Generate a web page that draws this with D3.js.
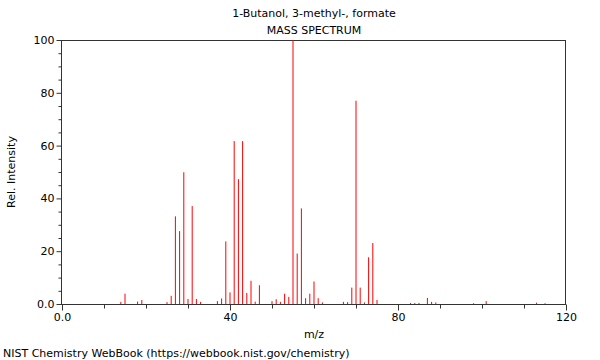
<!DOCTYPE html>
<html><head><meta charset="utf-8">
<script src="https://cdn.jsdelivr.net/npm/d3@7"></script>
<style>
body{margin:0;background:#fff;}
svg{display:block;font-family:"DejaVu Sans",sans-serif;}
</style></head>
<body>
<svg id="chart" width="600" height="360"></svg>
<script>
const title = "1-Butanol, 3-methyl-, formate";
const subtitle = "MASS SPECTRUM";
const xLabel = "m/z";
const yLabel = "Rel. Intensity";
const footer = "NIST Chemistry WebBook (https://webbook.nist.gov/chemistry)";

const mz = [14, 15, 18, 19, 25, 26, 27, 28, 29, 30, 31, 32, 33, 37, 38, 39, 40, 41, 42, 43, 44, 45, 46, 47,
  50, 51, 52, 53, 54, 55, 56, 57, 58, 59, 60, 61, 62, 67, 68, 69, 70, 71, 72, 73, 74, 75,
  83, 84, 85, 87, 88, 89, 98, 101, 113, 115];
const intensity = [0.8, 3.9, 0.9, 1.5, 0.7, 3.1, 33.2, 27.6, 49.9, 1.9, 37.1, 1.9, 0.8, 1.1, 2.1, 23.7, 4.4, 61.7, 47.3, 61.7, 4.2, 8.8, 0.9, 7.1,
  1.1, 1.8, 0.8, 3.9, 2.7, 100, 19.1, 36.2, 2.2, 3.9, 8.5, 2.2, 0.6, 0.8, 0.7, 6.2, 77.0, 6.2, 0.6, 17.7, 23.1, 1.5,
  0.4, 0.4, 0.4, 2.3, 0.8, 0.6, 0.3, 1.1, 0.5, 0.3];

const xMajorTicks = [0, 40, 80, 120];
const xTickLabels = ["0.0", "40", "80", "120"];
const yMajorTicks = [0, 20, 40, 60, 80, 100];
const yTickLabels = ["0.0", "20", "40", "60", "80", "100"];

const svg = d3.select("#chart");
const m = {left: 62, right: 566, top: 40, bottom: 304};
const x = d3.scaleLinear().domain([0, 120]).range([m.left, m.right]);
const y = d3.scaleLinear().domain([0, 100]).range([m.bottom, m.top]);
const axisColor = "#333";

// frame (top & right)
svg.append("line").attr("x1", m.left).attr("x2", m.right).attr("y1", m.top + 0.5).attr("y2", m.top + 0.5).attr("stroke", axisColor);
svg.append("line").attr("x1", m.right - 0.5).attr("x2", m.right - 0.5).attr("y1", m.top).attr("y2", m.bottom).attr("stroke", axisColor);

// peaks
svg.append("g").selectAll("line").data(mz).join("line")
  .attr("x1", d => x(d)).attr("x2", d => x(d))
  .attr("y1", y(0)).attr("y2", (d, i) => y(intensity[i]))
  .attr("stroke", "#ff0000").attr("stroke-width", 1);

// x axis
const xMinor = d3.range(0, 121, 10).filter(v => !xMajorTicks.includes(v));
const xAxis = svg.append("g").attr("transform", `translate(0,${m.bottom + 0.5})`)
  .call(d3.axisBottom(x).tickValues(xMajorTicks).tickFormat((d, i) => xTickLabels[i]).tickSize(6).tickPadding(3));
xAxis.call(g => g.select(".domain").remove());
svg.append("line").attr("x1", m.left).attr("x2", m.right).attr("y1", m.bottom + 0.5).attr("y2", m.bottom + 0.5).attr("stroke", axisColor);
svg.append("g").attr("transform", `translate(0,${m.bottom + 0.5})`)
  .call(d3.axisBottom(x).tickValues(xMinor).tickFormat("").tickSize(4))
  .call(g => g.select(".domain").remove());

// y axis
const yMinor = d3.range(0, 101, 5).filter(v => !yMajorTicks.includes(v));
const yAxis = svg.append("g").attr("transform", `translate(${m.left - 0.5},0)`)
  .call(d3.axisLeft(y).tickValues(yMajorTicks).tickFormat((d, i) => yTickLabels[i]).tickSize(5).tickPadding(2));
yAxis.call(g => g.select(".domain").remove());
svg.append("line").attr("x1", m.left - 0.5).attr("x2", m.left - 0.5).attr("y1", m.top).attr("y2", m.bottom + 1).attr("stroke", axisColor);
svg.append("g").attr("transform", `translate(${m.left - 0.5},0)`)
  .call(d3.axisLeft(y).tickValues(yMinor).tickFormat("").tickSize(3))
  .call(g => g.select(".domain").remove());

svg.selectAll(".tick line").attr("stroke", axisColor);
svg.selectAll(".tick text").attr("font-family", "DejaVu Sans").attr("font-size", 11).attr("fill", "#000");

// titles
svg.append("text").attr("x", 314).attr("y", 17).attr("text-anchor", "middle").attr("font-size", 11).text(title);
svg.append("text").attr("x", 314).attr("y", 34).attr("text-anchor", "middle").attr("font-size", 11).text(subtitle);
svg.append("text").attr("x", 314).attr("y", 338).attr("text-anchor", "middle").attr("font-size", 11).text(xLabel);
svg.append("text").attr("transform", "translate(15,172) rotate(-90)").attr("text-anchor", "middle").attr("font-size", 11).text(yLabel);
svg.append("text").attr("x", 3).attr("y", 357).attr("font-size", 11).text(footer);
</script>
</body></html>
